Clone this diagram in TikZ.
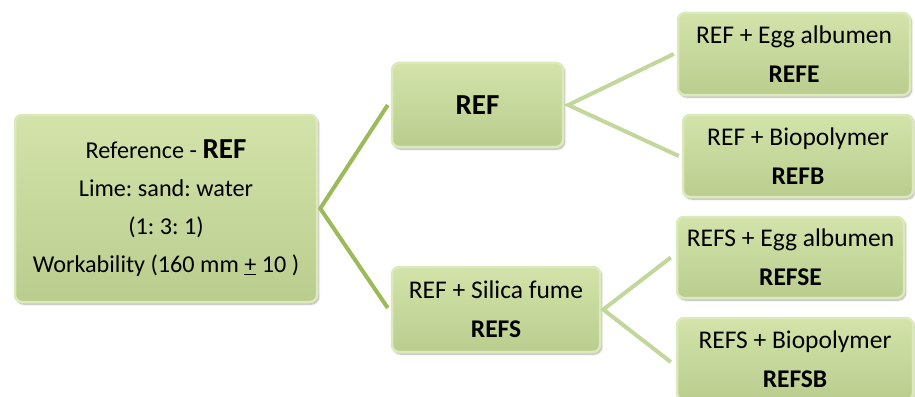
\documentclass[tikz,border=0pt]{standalone}
\usepackage{fontspec}
\setmainfont{Carlito}
\frenchspacing
\usetikzlibrary{shadows.blur}
\definecolor{boxtop}{HTML}{D3E3AA}
\definecolor{boxbot}{HTML}{BACD8E}
\definecolor{boxedge}{HTML}{DCEABB}
\definecolor{linedark}{HTML}{9BBB59}
\definecolor{linelight}{HTML}{C3D69B}
\tikzset{
  gbox/.style={rectangle, rounded corners=7pt, top color=boxtop, bottom color=boxbot,
    draw=boxedge, line width=2.5pt, align=center, inner sep=0pt,
    font=\fontsize{25.5}{39}\selectfont,
    blur shadow={shadow xshift=1.5pt, shadow yshift=-2pt, shadow blur steps=6, shadow opacity=35}},
  darkconn/.style={draw=linedark, line width=4pt},
  lightconn/.style={draw=linelight, line width=4pt},
}
\begin{document}
\begin{tikzpicture}[x=1pt,y=-1pt]
\useasboundingbox (0,0) rectangle (915,396);
\clip (0,0) rectangle (915,396);
\node[gbox, minimum width=302pt, minimum height=187pt, font=\fontsize{24.2}{38}\selectfont] (ref0) at (166,208.5)
  {Reference - {\bfseries\fontsize{29}{38}\selectfont REF}\\Lime: sand: water\\(1: 3: 1)\\Workability (160 mm \underline{+} 10 )};
\node[gbox, minimum width=171pt, minimum height=84pt] (ref) at (477.5,105)
  {\bfseries\fontsize{29}{38}\selectfont REF};
\node[gbox, minimum width=208pt, minimum height=85pt] (refs) at (496,309.5)
  {REF + Silica fume\\\bfseries REFS};
\node[gbox, minimum width=232pt, minimum height=82pt] (refe) at (794,54)
  {REF + Egg albumen\\\bfseries REFE};
\node[gbox, minimum width=230pt, minimum height=82pt] (refb) at (798,156)
  {REF + Biopolymer\\\bfseries REFB};
\node[gbox, minimum width=227pt, minimum height=81pt] (refse) at (790.5,257.5)
  {REFS + Egg albumen\\\bfseries REFSE};
\node[gbox, minimum width=236pt, minimum height=82pt] (refsb) at (795,359)
  {REFS + Biopolymer\\\bfseries REFSB};
\coordinate (j0) at ([xshift=2pt]ref0.east);
\coordinate (j1) at ([xshift=4pt]ref.east);
\coordinate (j2) at ([xshift=2pt]refs.east);
\draw[darkconn] ([xshift=-3pt]ref.west) -- (j0) -- ([xshift=-3pt,yshift=1.5pt]refs.west);
\draw[lightconn] ([xshift=-3pt]refe.west) -- (j1) -- ([xshift=-3pt]refb.west);
\draw[lightconn] ([xshift=-5pt]refse.west) -- (j2) -- ([xshift=-5pt,yshift=-3pt]refsb.west);
\end{tikzpicture}
\end{document}
